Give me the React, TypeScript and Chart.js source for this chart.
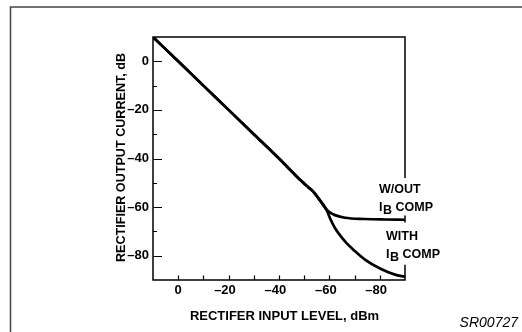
import React, { useEffect, useRef } from 'react';
import { Chart, registerables } from 'chart.js';

Chart.register(...registerables);

// ---- data ----
const SHARED_X = [10, 0, -10, -20, -30, -40, -49, -51.6, -53.6, -55.6, -58.9];
const SHARED_Y = [10, 0, -10, -20, -30, -40, -49.4, -51.8, -53.6, -56.3, -61.1];
const WOUT_X = [-60.3, -62.2, -66.2, -74, -82, -90];
const WOUT_Y = [-62.3, -63.3, -64.4, -64.9, -65.1, -65.2];
const WITH_X = [-60.2, -62.2, -66.2, -70.2, -74.1, -80.1, -86, -90];
const WITH_Y = [-64.5, -68.6, -74.1, -78.2, -81.6, -85.3, -87.8, -88.7];
const X_TICK_LABELS = [0, -20, -40, -60, -80];
const Y_TICK_LABELS = [0, -20, -40, -60, -80];
const X_MIN = -90;
const X_MAX = 10;
const Y_MIN = -90;
const Y_MAX = 10;
const X_TITLE = 'RECTIFER INPUT LEVEL, dBm';
const Y_TITLE = 'RECTIFIER OUTPUT CURRENT, dB';
const CODE_TEXT = 'SR00727';

const FONT = '"Liberation Sans", Arial, Helvetica, sans-serif';

const fmt = (v: number) => (v === 0 ? '0' : '\u2013' + Math.abs(v));

const toPts = (xs: number[], ys: number[]) => xs.map((x, i) => ({ x, y: ys[i] }));

const drawSubLabel = (ctx: CanvasRenderingContext2D, x: number, base: number) => {
  ctx.fillText('I', x, base);
  const wI = ctx.measureText('I').width;
  ctx.fillText('B', x + wI + 0.5, base + 3.3);
  const wB = ctx.measureText('B').width;
  ctx.fillText(' COMP', x + wI + 0.5 + wB, base);
};

const decorPlugin = {
  id: 'decor',
  beforeDraw(chart: any) {
    const { ctx, width, height } = chart;
    ctx.save();
    ctx.fillStyle = '#fff';
    ctx.fillRect(0, 0, width, height);
    ctx.restore();
  },
  afterDraw(chart: any) {
    const { ctx, chartArea: a, scales } = chart;
    const xs = scales.x;
    const ys = scales.y;
    ctx.save();
    // outer page frame
    ctx.strokeStyle = '#444';
    ctx.lineWidth = 1.5;
    ctx.beginPath();
    ctx.moveTo(10.5, 332);
    ctx.lineTo(10.5, 7);
    ctx.lineTo(522, 7);
    ctx.stroke();

    // plot frame (right side interrupted by labels)
    ctx.strokeStyle = '#000';
    ctx.lineWidth = 1.5;
    ctx.beginPath();
    ctx.moveTo(a.right, ys.getPixelForValue(-48));
    ctx.lineTo(a.right, a.top);
    ctx.lineTo(a.left, a.top);
    ctx.lineTo(a.left, a.bottom);
    ctx.lineTo(a.right, a.bottom);
    ctx.lineTo(a.right, ys.getPixelForValue(-83.7));
    ctx.moveTo(a.right, ys.getPixelForValue(-63.5));
    ctx.lineTo(a.right, ys.getPixelForValue(-66.3));
    ctx.stroke();

    // inward tick marks
    ctx.lineWidth = 1.2;
    ctx.beginPath();
    xs.ticks.forEach((t: any) => {
      if (t.value >= X_MAX || t.value <= X_MIN) return;
      const px = Math.round(xs.getPixelForValue(t.value)) + 0.5;
      ctx.moveTo(px, a.bottom);
      ctx.lineTo(px, a.bottom - 4.5);
    });
    ys.ticks.forEach((t: any) => {
      if (t.value >= Y_MAX || t.value <= Y_MIN) return;
      const py = Math.round(ys.getPixelForValue(t.value)) + 0.5;
      const len = t.value % 20 === 0 ? 9 : 4;
      ctx.moveTo(a.left, py);
      ctx.lineTo(a.left + len, py);
    });
    ctx.stroke();

    // curve labels
    ctx.fillStyle = '#000';
    ctx.font = `bold 12.5px ${FONT}`;
    ctx.textAlign = 'left';
    ctx.textBaseline = 'alphabetic';
    ctx.fillText('W/OUT', 379, 193);
    drawSubLabel(ctx, 379, 210.5);
    ctx.fillText('WITH', 386, 240);
    drawSubLabel(ctx, 386, 258);

    // axis titles
    ctx.font = `bold 13px ${FONT}`;
    ctx.textAlign = 'center';
    ctx.fillText(X_TITLE, 284.5, 320);
    ctx.save();
    ctx.translate(124.5, 157.5);
    ctx.rotate(-Math.PI / 2);
    ctx.font = `bold 12.6px ${FONT}`;
    ctx.fillText(Y_TITLE, 0, 0);
    ctx.restore();

    // figure code
    ctx.font = `italic 14px ${FONT}`;
    ctx.textAlign = 'right';
    ctx.fillText(CODE_TEXT, 518, 327);
    ctx.restore();
  },
};

export default function App() {
  const ref = useRef<HTMLCanvasElement | null>(null);

  useEffect(() => {
    if (!ref.current) return;
    const lineStyle = {
      borderColor: '#000',
      borderWidth: 2.7,
      pointRadius: 0,
      fill: false,
      cubicInterpolationMode: 'monotone' as const,
    };
    const chart = new Chart(ref.current, {
      type: 'line',
      data: {
        datasets: [
          { label: 'W/OUT IB COMP', data: toPts([...SHARED_X, ...WOUT_X], [...SHARED_Y, ...WOUT_Y]), ...lineStyle },
          { label: 'WITH IB COMP', data: toPts([...SHARED_X, ...WITH_X], [...SHARED_Y, ...WITH_Y]), ...lineStyle },
        ],
      },
      options: {
        responsive: false,
        animation: false,
        devicePixelRatio: 1,
        layout: { padding: { left: 0, top: 37, right: 117, bottom: 0 } },
        plugins: { legend: { display: false }, tooltip: { enabled: false }, title: { display: false } },
        scales: {
          x: {
            type: 'linear',
            reverse: true,
            min: X_MIN,
            max: X_MAX,
            grid: { display: false, drawTicks: false },
            border: { display: false },
            afterFit: (s: any) => {
              s.height = 52;
            },
            ticks: {
              stepSize: 10,
              autoSkip: false,
              maxRotation: 0,
              padding: 3,
              color: '#000',
              font: { family: FONT, size: 13, weight: 'bold' },
              callback: (v: any) => (X_TICK_LABELS.includes(Number(v)) ? (Number(v) === 0 ? '0' : fmt(Number(v)) + '\u2007') : ''),
            },
          },
          y: {
            type: 'linear',
            min: Y_MIN,
            max: Y_MAX,
            grid: { display: false, drawTicks: false },
            border: { display: false },
            afterFit: (s: any) => {
              s.width = 153;
            },
            ticks: {
              stepSize: 10,
              autoSkip: false,
              padding: 4,
              color: '#000',
              font: { family: FONT, size: 13, weight: 'bold' },
              callback: (v: any) => (Y_TICK_LABELS.includes(Number(v)) ? fmt(Number(v)) : ''),
            },
          },
        },
      },
      plugins: [decorPlugin],
    });
    return () => chart.destroy();
  }, []);

  return (
    <div style={{ position: 'fixed', left: 0, top: 0, width: 522, height: 332, background: '#fff' }}>
      <canvas ref={ref} width={522} height={332} style={{ display: 'block', width: 522, height: 332 }} />
    </div>
  );
}
